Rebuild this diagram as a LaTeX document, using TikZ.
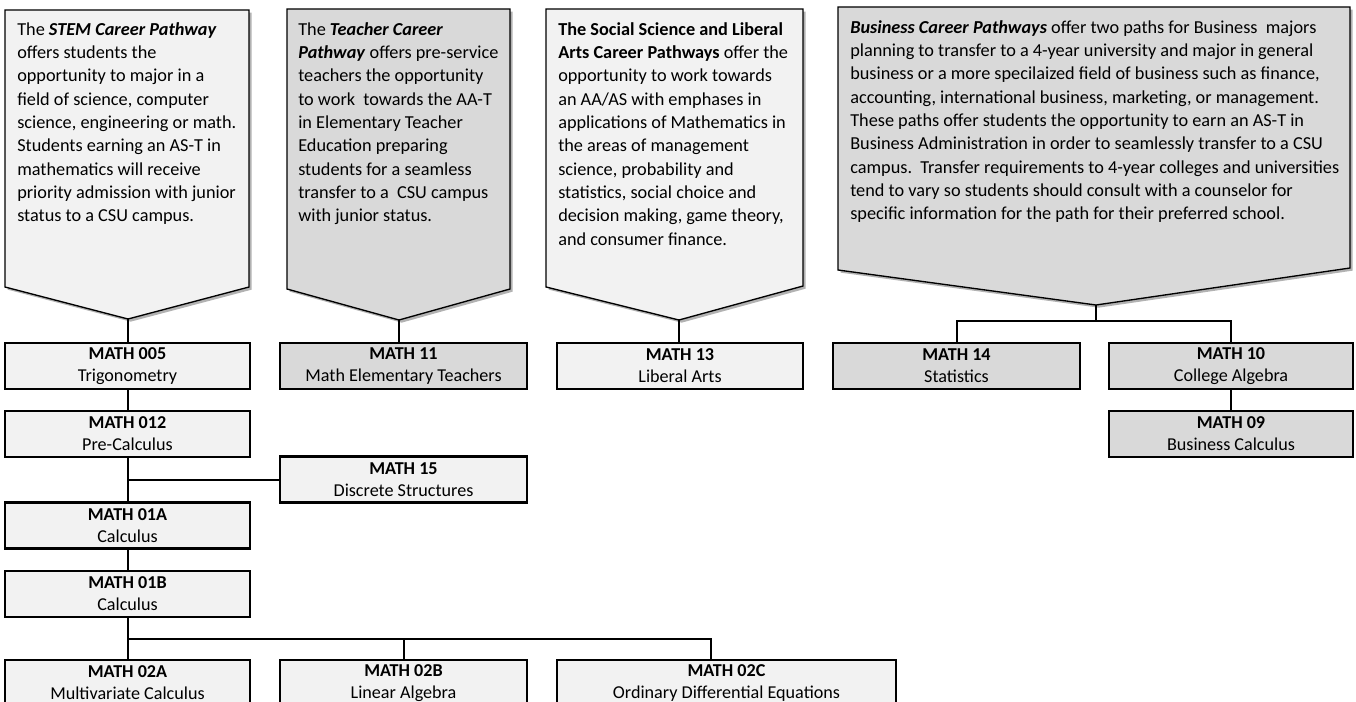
\documentclass[tikz,border=0pt]{standalone}
\usepackage{fontspec}
\setmainfont{Carlito}
\usetikzlibrary{shadows}
\definecolor{lightfill}{HTML}{F2F2F2}
\definecolor{grayfill}{HTML}{D9D9D9}
\tikzset{
  callout/.style={draw=black, line width=1pt, line join=miter,
    drop shadow={shadow xshift=2pt, shadow yshift=-2pt, opacity=0.3, fill=black}},
  ctext/.style={anchor=north west, inner sep=0pt, align=left,
    font=\fontsize{13.7}{17.5}\selectfont},
  course/.style={draw=black, line width=1.9pt, inner sep=0pt, align=center,
    font=\fontsize{13.6}{16.5}\selectfont, minimum height=34.5pt},
  cl/.style={course, fill=lightfill},
  cg/.style={course, fill=grayfill},
  wd/.style={minimum width=#1pt*0.75},
  conn/.style={draw=black, line width=1.5pt}
}
\begin{document}
\begin{tikzpicture}[x=0.75pt,y=-0.75pt]
\useasboundingbox (0,0) rectangle (1356,702);
\fill[white] (0,0) rectangle (1356,702);

% callouts
\draw[callout, fill=lightfill] (5,10) -- (249,10) -- (249,287) -- (128,319) -- (5,287) -- cycle;
\coordinate (t1) at (128,319);
\node[ctext] (c1) at (17,22) {The \textbf{\textit{STEM Career Pathway}}\\
offers students the\\
opportunity to major in a\\
field of science, computer\\
science, engineering or math.\\
Students earning an AS-T in\\
mathematics will receive\\
priority admission with junior\\
status to a CSU campus.};

\draw[callout, fill=grayfill] (287,9) -- (510,9) -- (510,289) -- (399,320) -- (287,289) -- cycle;
\coordinate (t2) at (399,320);
\node[ctext] (c2) at (298,22) {The \textbf{\textit{Teacher Career}}\\
\textbf{\textit{Pathway}} offers pre-service\\
teachers the opportunity\\
to work\ \ towards the AA-T\\
in Elementary Teacher\\
Education preparing\\
students for a seamless\\
transfer to a\ \ CSU campus\\
with junior status.};

\draw[callout, fill=lightfill] (546,9) -- (803,9) -- (803,286) -- (679,320) -- (546,287) -- cycle;
\coordinate (t3) at (679,320);
\node[ctext] (c3) at (558,22) {\textbf{The Social Science and Liberal}\\
\textbf{Arts Career Pathways} offer the\\
opportunity to work towards\\
an AA/AS with emphases in\\
applications of Mathematics in\\
the areas of management\\
science, probability and\\
statistics, social choice and\\
decision making, game theory,\\
and consumer finance.};

\draw[callout, fill=grayfill] (838,7) -- (1350,7) -- (1350,268) -- (1096,305) -- (838,270) -- cycle;
\coordinate (t4) at (1096,305);
\node[ctext] (c4) at (850,20) {\textbf{\textit{Business Career Pathways}} offer two paths for Business\ \ majors\\
planning to transfer to a 4-year university and major in general\\
business or a more specilaized field of business such as finance,\\
accounting, international business, marketing, or management.\\
These paths offer students the opportunity to earn an AS-T in\\
Business Administration in order to seamlessly transfer to a CSU\\
campus.\ \ Transfer requirements to 4-year colleges and universities\\
tend to vary so students should consult with a counselor for\\
specific information for the path for their preferred school.};

% courses
\node[cl, wd=245] (m005) at (127.5,366) {\textbf{MATH 005}\\Trigonometry};
\node[cg, wd=247] (m11) at (403.5,366) {\textbf{MATH 11}\\Math Elementary Teachers};
\node[cl, wd=246] (m13) at (680,366) {\textbf{MATH 13}\\Liberal Arts};
\node[cg, wd=247] (m14) at (956.5,366) {\textbf{MATH 14}\\Statistics};
\node[cg, wd=244] (m10) at (1231,366) {\textbf{MATH 10}\\College Algebra};
\node[cg, wd=244] (m09) at (1231,434) {\textbf{MATH 09}\\Business Calculus};
\node[cl, wd=245] (m012) at (127.5,434) {\textbf{MATH 012}\\Pre-Calculus};
\node[cl, wd=247] (m15) at (403.5,479.5) {\textbf{MATH 15}\\Discrete Structures};
\node[cl, wd=245] (m01A) at (127.5,525.5) {\textbf{MATH 01A}\\Calculus};
\node[cl, wd=245] (m01B) at (127.5,594) {\textbf{MATH 01B}\\Calculus};
\node[cl, wd=245] (m02A) at (127.5,683) {\textbf{MATH 02A}\\Multivariate Calculus};
\node[cl, wd=247] (m02B) at (403.5,683) {\textbf{MATH 02B}\\Linear Algebra};
\node[cl, wd=339] (m02C) at (726.5,683) {\textbf{MATH 02C}\\Ordinary Differential Equations};

% connectors
\coordinate (j4) at (1096,321);
\coordinate (j2) at (128,639);
\coordinate (j2c) at (711,639);
\draw[conn] (t1) -- (t1 |- m005.north);
\draw[conn] (t2) -- (t2 |- m11.north);
\draw[conn] (t3) -- (t3 |- m13.north);
\draw[conn] (t4) -- (j4);
\draw[conn] (m14.north) -- (m14.north |- j4) -- (m10.north |- j4) -- (m10.north);
\draw[conn] (m10.south) -- (m09.north);
\draw[conn] (m005.south) -- (m012.north);
\draw[conn] (m012.south) -- (m01A.north);
\draw[conn] (m012.south |- m15.west) -- (m15.west);
\draw[conn] (m01A.south) -- (m01B.north);
\draw[conn] (m01B.south) -- (m02A.north);
\draw[conn] (m02A.north |- j2) -- (j2c) -- (j2c |- m02C.north);
\draw[conn] (m02B.north |- j2) -- (m02B.north);
\end{tikzpicture}
\end{document}
